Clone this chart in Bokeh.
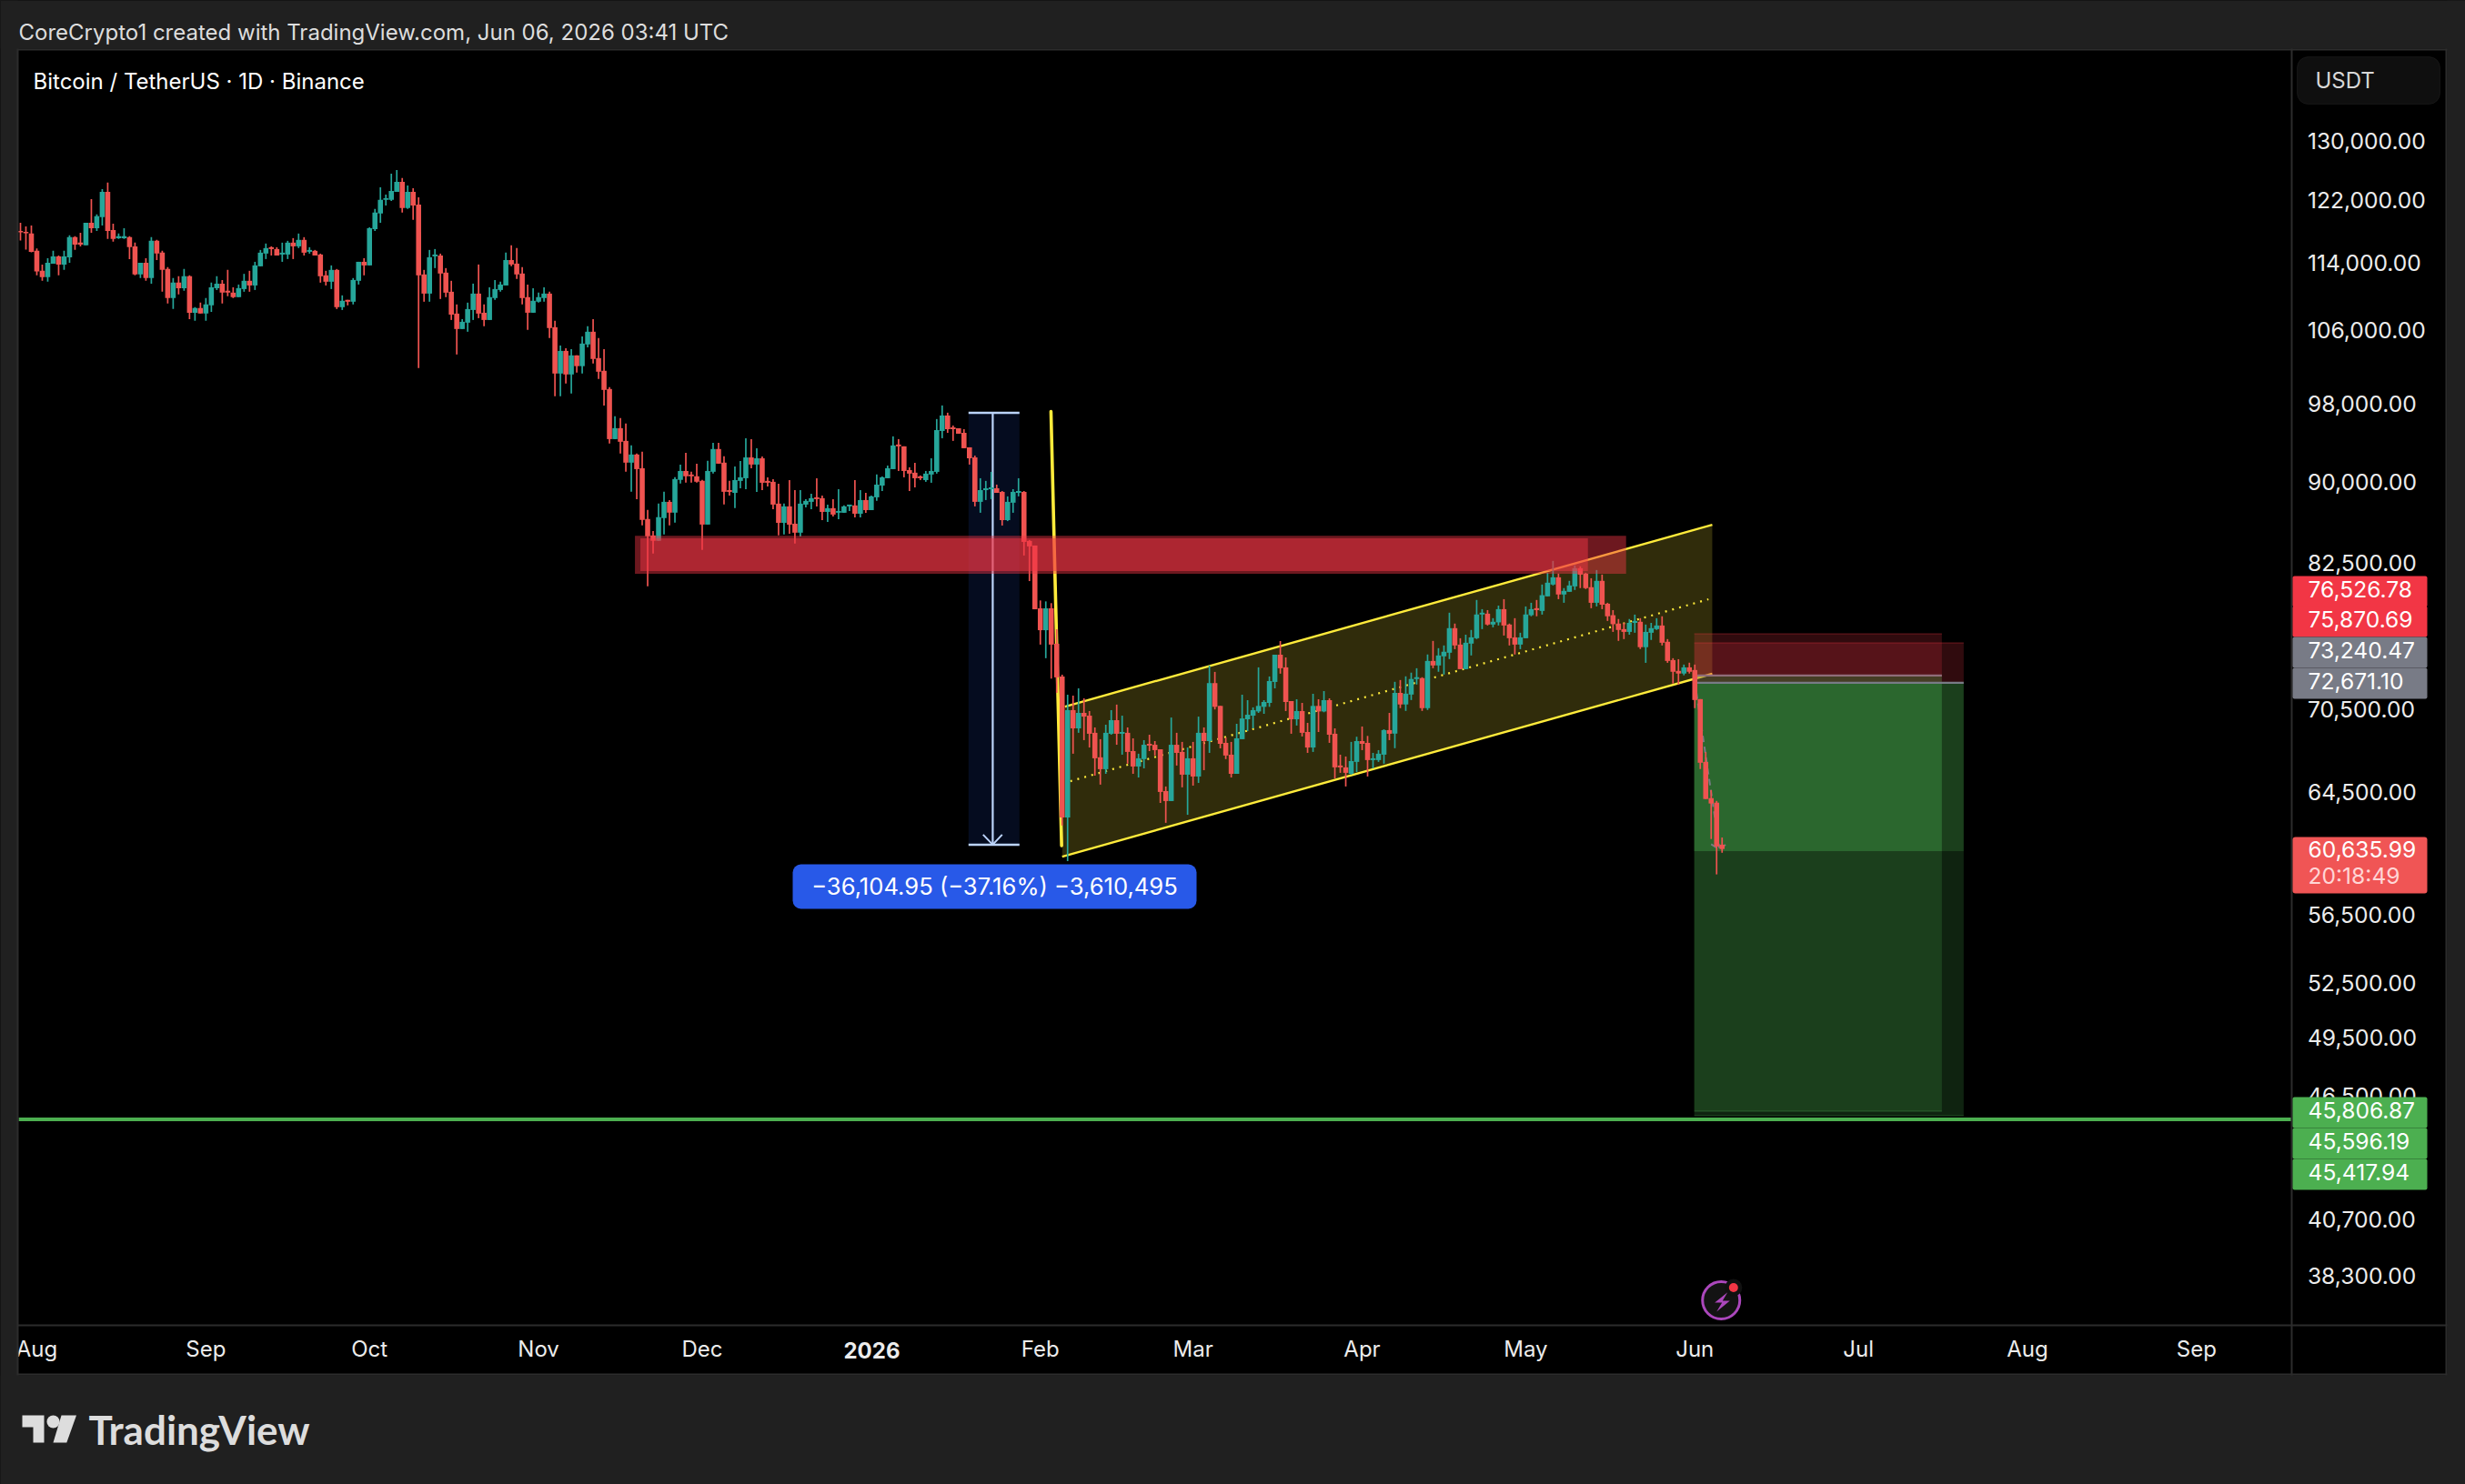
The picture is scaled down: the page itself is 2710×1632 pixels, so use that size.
from bokeh.embed import file_html
from bokeh.models import (BoxAnnotation, FixedTicker, GlobalInlineStyleSheet, Label,
                          PolyAnnotation, Range1d)
from bokeh.plotting import figure
from bokeh.resources import INLINE

# BTCUSDT daily candles, day 0 = 2025-08-01
days = list(range(-3, 310))

opens = [
    118000, 117880, 117660, 115490, 113030, 112260, 113910, 114800, 113800, 114690,
    117200, 116510, 116170, 119040, 118340, 119750, 123070, 118110, 117080, 117080,
    117200, 116050, 112590, 114020, 112150, 116740, 115260, 113250, 109760, 111600,
    110940, 112370, 108040, 108580, 107940, 108900, 110940, 111480, 110620, 110400,
    109870, 110830, 111820, 111260, 113580, 115150, 115940, 115710, 115030, 115030,
    116510, 116050, 116860, 115370, 115490, 115030, 112480, 111710, 113140, 108690,
    109550, 109330, 111820, 114130, 113690, 118230, 120220, 122000, 122000, 123070,
    124410, 120930, 123070, 121400, 112590, 110290, 114800, 114910, 112810, 110510,
    107940, 106160, 106890, 108360, 110290, 108040, 107200, 109760, 110720, 111260,
    114350, 113910, 112700, 109870, 108040, 109330, 109760, 110290, 106370, 101190,
    103690, 101090, 103190, 102000, 104410, 105850, 102890, 101490, 99520, 94290,
    95410, 94110, 91930, 92740, 91380, 86520, 85000, 84510, 86600, 88130,
    87110, 90240, 91110, 90760, 90590, 90150, 86000, 91030, 93290, 91930,
    89250, 88990, 90140, 90400, 92450, 91740, 92360, 90140, 90050, 87960,
    86160, 87700, 86080, 85250, 87870, 88130, 88560, 88480, 87180, 87530,
    87100, 87100, 87700, 87790, 87010, 88300, 87350, 88560, 89690, 90400,
    91290, 93740, 93560, 91200, 90940, 90580, 90220, 90760, 91020, 95120,
    96720, 95490, 95400, 94930, 93460, 92450, 88130, 89250, 89340, 89430,
    89080, 86410, 88050, 88990, 89080, 84500, 84080, 78580, 76750, 78580,
    75640, 73020, 62730, 70420, 69050, 70210, 70000, 68720, 66930, 66080,
    68650, 69660, 68650, 68720, 67380, 66270, 66800, 67910, 67840, 67510,
    64540, 63850, 67840, 67320, 65690, 66860, 65560, 68720, 68110, 72500,
    70740, 67980, 67120, 65750, 68250, 69730, 70000, 70320, 70670, 70970,
    72590, 74750, 73740, 71110, 69730, 70350, 68780, 67640, 70740, 70320,
    71180, 68650, 66340, 66210, 65750, 66600, 68110, 67980, 66730, 66730,
    67120, 68920, 68660, 71740, 70850, 71610, 72820, 72890, 70570, 74250,
    73890, 74620, 74910, 76920, 75570, 73600, 75650, 76090, 78060, 78130,
    77220, 77400, 78510, 77220, 76160, 75570, 76090, 78000, 78590, 78360,
    79600, 80620, 81250, 79760, 79990, 80460, 82050, 81570, 80390, 79050,
    80940, 78970, 78000, 77300, 76840, 76610, 77360, 77450, 75360, 76540,
    76840, 77140, 75800, 74320, 73460, 73250, 73740, 73530, 71260, 66600,
    64050, 63740, 60920,
]
highs = [
    119040, 118570, 118690, 115790, 113800, 114580, 115490, 114910, 115490, 117430,
    117310, 117770, 119040, 122110, 120100, 123430, 124290, 118920, 117660, 118340,
    117310, 116510, 114020, 114580, 117200, 116860, 115490, 113470, 112150, 112370,
    113250, 112480, 108690, 109220, 109760, 111600, 112370, 111920, 113140, 111040,
    111370, 112660, 113030, 114130, 115600, 116400, 116050, 115940, 116510, 116740,
    117080, 117660, 117200, 115940, 115600, 115140, 113030, 113690, 113250, 110080,
    109550, 112150, 114130, 114580, 118460, 120810, 123680, 122700, 125510, 126000,
    124900, 123920, 123560, 122340, 113140, 115600, 115710, 115140, 113360, 111820,
    109010, 107300, 109220, 111480, 113800, 109010, 111040, 111920, 111710, 115260,
    116170, 115830, 113470, 111370, 110940, 110400, 111040, 110510, 107100, 104300,
    103990, 103890, 103190, 105320, 106470, 107300, 105130, 103890, 99710, 96640,
    96450, 95880, 93650, 92840, 93020, 87370, 85410, 87960, 89090, 88300,
    90500, 91740, 92900, 91030, 91830, 90240, 92110, 93920, 93920, 92560,
    90140, 91560, 92090, 94380, 94290, 93370, 92550, 90490, 90310, 89870,
    87960, 90220, 89250, 89250, 88390, 88910, 90400, 88730, 87870, 88390,
    89340, 87790, 87870, 90220, 89250, 88990, 88730, 90760, 90580, 91650,
    94570, 94290, 93560, 91470, 91910, 90670, 91110, 92360, 96350, 97770,
    97010, 95680, 95400, 95300, 93460, 92630, 90400, 90140, 91020, 89780,
    89160, 88650, 89340, 90400, 89160, 84580, 84080, 79250, 79170, 79020,
    76830, 73160, 71600, 71530, 72090, 71320, 70350, 69120, 68250, 69320,
    70420, 70840, 70000, 69120, 68310, 67190, 68180, 68580, 68110, 67510,
    64860, 69860, 68720, 68050, 67640, 68050, 69930, 69120, 73880, 73380,
    70740, 68380, 68050, 69390, 71600, 71180, 70630, 73740, 71180, 73020,
    74750, 75860, 74530, 71110, 71250, 70970, 69460, 71670, 71250, 71880,
    71320, 69050, 67120, 66990, 68050, 68430, 69190, 68490, 67250, 67450,
    68980, 70210, 72600, 72740, 73030, 73320, 73670, 72960, 74770, 75870,
    75280, 75500, 78210, 77300, 76090, 76380, 76770, 79290, 78510, 78430,
    77750, 78810, 79360, 77300, 77750, 76540, 78740, 79050, 79290, 80620,
    81650, 82700, 81570, 80310, 80940, 82300, 82220, 81650, 81170, 81890,
    81490, 79050, 78430, 77680, 77360, 77680, 78050, 77750, 77220, 77360,
    77750, 77910, 76020, 74470, 74390, 73960, 74110, 73960, 71260, 67310,
    64610, 63860, 61390,
]
lows = [
    116780, 115640, 115300, 112480, 111820, 111710, 113910, 112480, 113140, 114020,
    115600, 116050, 116170, 117770, 118000, 118690, 116970, 116630, 116970, 116970,
    114470, 112480, 112150, 111820, 111480, 114350, 110510, 109120, 108470, 110190,
    110620, 107300, 107100, 107940, 107100, 108150, 110720, 109120, 109970, 109760,
    109870, 110510, 110510, 110720, 113580, 114470, 114910, 114910, 114130, 114470,
    114470, 115830, 114910, 115140, 114910, 111600, 111260, 110830, 108470, 108360,
    108900, 109010, 111370, 112480, 113690, 118000, 119040, 121280, 121870, 123070,
    120340, 120810, 119400, 101790, 109330, 109330, 113360, 109650, 109870, 107200,
    103290, 106160, 105850, 107200, 107410, 106470, 107200, 109550, 110510, 111260,
    113580, 112040, 109010, 106060, 108040, 109220, 109330, 105130, 98740, 98740,
    100100, 99040, 101290, 101190, 104090, 102290, 100590, 97770, 93840, 94290,
    92840, 91030, 89090, 88390, 85920, 80460, 83350, 84510, 85080, 85920,
    86180, 89880, 89970, 89970, 89970, 83680, 86000, 90850, 91830, 87880,
    88730, 87530, 89430, 89340, 91380, 89080, 89250, 89590, 87440, 85000,
    85080, 85160, 84250, 84910, 87610, 87440, 87700, 86410, 86240, 86750,
    86500, 87100, 87270, 86670, 86670, 87100, 87350, 88220, 89160, 90400,
    91290, 91110, 90490, 89160, 89510, 90220, 90050, 89960, 90850, 94380,
    94930, 94110, 94840, 93370, 91740, 87700, 87100, 88300, 88390, 88990,
    85910, 86320, 87100, 88650, 83180, 80920, 78500, 75570, 74470, 72850,
    71740, 62190, 59850, 67190, 68720, 68180, 67640, 65620, 64990, 65750,
    68580, 67840, 67120, 66470, 65750, 65490, 66140, 67380, 67060, 63720,
    62370, 63850, 66340, 64800, 62910, 64920, 65110, 66010, 67250, 70470,
    67580, 66800, 65490, 65750, 68250, 68850, 69050, 70210, 70140, 70670,
    72090, 73240, 70350, 68650, 69260, 68450, 67250, 67320, 68780, 70260,
    67980, 65430, 65820, 64860, 65690, 65880, 67450, 65560, 66140, 66600,
    66470, 68180, 67590, 70570, 70360, 71190, 72390, 70360, 70430, 73670,
    73390, 73170, 74400, 75200, 73600, 73600, 74690, 76020, 76840, 77140,
    76990, 77140, 76310, 75500, 74770, 75200, 76090, 77910, 77910, 78050,
    79600, 80540, 79360, 79050, 79990, 80150, 80310, 80230, 78590, 78740,
    78510, 77520, 76610, 75870, 76020, 76380, 76540, 75210, 74100, 75950,
    76770, 75500, 74100, 72460, 72390, 73110, 73250, 70570, 66090, 63990,
    61290, 59000, 60390,
]
closes = [
    117810, 117690, 115370, 112960, 112260, 114020, 114800, 113800, 114800, 117200,
    116280, 116280, 119040, 118340, 119870, 123070, 118000, 116970, 117310, 117310,
    115940, 112590, 114020, 112150, 116740, 115150, 113140, 109760, 111600, 110940,
    112370, 108040, 108580, 107940, 109010, 111040, 111480, 110400, 110400, 109870,
    110940, 111820, 111260, 113690, 115260, 115830, 115710, 114910, 115260, 116510,
    116050, 116860, 115260, 115600, 114910, 112370, 111710, 113140, 108690, 109440,
    109330, 111920, 114130, 113690, 118340, 120340, 122000, 122220, 123190, 124410,
    120930, 123070, 121280, 112480, 110290, 114690, 115030, 112700, 110400, 107820,
    106160, 106990, 108470, 110290, 107940, 107200, 109870, 110830, 111370, 114350,
    113800, 112590, 109760, 108040, 109440, 109870, 110290, 106270, 101190, 103690,
    101090, 103190, 102000, 104510, 105850, 102790, 101390, 99420, 94290, 95410,
    94020, 91930, 92740, 91290, 86430, 84920, 84510, 86690, 88130, 87110,
    90320, 91110, 90590, 90590, 90060, 86000, 91110, 93290, 91830, 89090,
    89080, 90220, 90490, 92450, 91740, 92360, 89960, 89960, 87870, 86160,
    87700, 85990, 85250, 87960, 88220, 88480, 88390, 87180, 87530, 86930,
    87270, 87700, 87870, 87010, 88300, 87350, 88650, 89780, 90490, 91380,
    93650, 93560, 91110, 90850, 90400, 90400, 90850, 91110, 95210, 96720,
    95300, 95300, 94840, 93370, 92360, 88130, 89250, 89430, 89510, 88990,
    86410, 88130, 89080, 89160, 84410, 84000, 78500, 76750, 78580, 75570,
    72950, 62730, 70420, 69050, 70210, 69930, 68650, 66860, 66080, 68720,
    69660, 68650, 68780, 67320, 66270, 66860, 67840, 67780, 67450, 64480,
    63850, 67840, 67250, 65690, 66860, 65560, 68720, 68110, 72500, 70670,
    67910, 67060, 65750, 68310, 69790, 70070, 70420, 70740, 71040, 72660,
    74750, 73670, 71040, 69730, 70350, 68720, 67640, 70740, 70320, 71180,
    68580, 66210, 66210, 65820, 66660, 68110, 67910, 66730, 66860, 67190,
    68920, 68650, 71740, 70850, 71680, 72820, 72960, 70570, 74250, 73890,
    74690, 74990, 76920, 75500, 73600, 75720, 76160, 78060, 78210, 77220,
    77450, 78510, 77140, 76090, 75570, 76160, 78060, 78510, 78430, 79700,
    80780, 81250, 79760, 80070, 80540, 82050, 81490, 80310, 79050, 80940,
    78890, 77910, 77250, 76770, 76610, 77360, 77520, 75360, 76610, 76920,
    77140, 75720, 74250, 73390, 73250, 73740, 73390, 71190, 66540, 63990,
    63680, 60800, 60636,
]

price_ticks = [130000, 122000, 114000, 106000, 98000, 90000, 82500, 70500, 64500,
               56500, 52500, 49500, 46500, 40700, 38300]
month_days = [0, 31, 61, 92, 122, 153, 184, 212, 243, 273, 304, 334, 365, 396]
month_names = ["Aug", "Sep", "Oct", "Nov", "Dec", "", "Feb", "Mar", "Apr", "May", "Jun",
               "Jul", "Aug", "Sep"]

# drawings on the chart, in days and prices
zone_left = [109.67, 110.67]
zone_right = [291.4, 284.4]
zone_top = [84960, 84730]
zone_bottom = [81560, 81800]

channel_days = [188, 307.2, 307.2, 188.5]
channel_prices = [60140, 73230, 85980, 70690]
channel_mid_days = [189.5, 306.5]
channel_mid_prices = [65230, 79350]

steep_days = [185.95, 187.9]
steep_prices = [97140, 60850]

measure_left, measure_center, measure_right = 170.83, 175.27, 180.17
measure_top, measure_bottom = 97000, 60920
arrow_days = [173.5, 175.27, 177]
arrow_prices = [61580, 60920, 61580]

pos_left = 303.9
pos_right = [349.3, 353.3]
stop_prices = [76450, 75710]
entry_prices = [73090, 72520]
target_prices = [45720, 45500]
current_price = 60500
pos_path_days = [304, 308.5]
pos_path_prices = [72600, 60700]
pos_arrow_days = [307, 308.4, 310.2]
pos_arrow_prices = [60950, 60620, 61050]

target_line = 45320
pane_left, pane_right = -3.33, 413.35
pane_bottom = 36385

tag_rows = ["76,526.78", "75,870.69", "73,240.47", "72,671.10",
            "45,806.87", "45,596.19", "45,417.94"]
tag_colors = ["#f23645", "#f23645", "#787b86", "#787b86", "#4caf50", "#4caf50", "#4caf50"]
tag_tops = [633, 666, 700, 734, 1206, 1240, 1274]
tag_heights = [34, 34, 34, 34, 34, 34, 34]

PANEL = "#202020"
EDGE = "#2c2c2c"
RED = "#ef5350"
GREEN = "#26a69a"
FONT = "Inter"
PRICE_SIZE = "24.6px"

# the frame fills the whole page at just under 6 px a day on a log price scale,
# the axes are pinned to the edges of the black pane
p = figure(width=2710, height=1632, output_backend="svg", toolbar_location=None,
           y_axis_type="log", y_axis_location="right",
           x_range=Range1d(-6.667, 445.3), y_range=Range1d(30583, 151238),
           min_border=0, background_fill_color="#000000", border_fill_color=PANEL,
           outline_line_color=None)
p.stylesheets = [GlobalInlineStyleSheet(css="html,body{background:%s;}" % PANEL)]
p.grid.grid_line_color = None

p.xaxis.fixed_location = pane_bottom
p.yaxis.fixed_location = pane_right
p.xaxis.ticker = FixedTicker(ticks=month_days)
p.xaxis.major_label_overrides = {d: n for d, n in zip(month_days, month_names)}
p.yaxis.ticker = FixedTicker(ticks=price_ticks)
p.yaxis.major_label_overrides = {t: f"{t:,.2f}" for t in price_ticks}
for ax in (p.xaxis[0], p.yaxis[0]):
    ax.axis_line_color = None
    ax.major_tick_line_color = None
    ax.minor_tick_line_color = None
    ax.major_label_text_color = "#ececec"
    ax.major_label_text_font = FONT
    ax.major_label_text_font_size = "24px"
p.yaxis.major_label_text_font_size = PRICE_SIZE
p.xaxis.major_label_standoff = 8
p.yaxis.major_label_standoff = 12

# measure tool
p.quad(left=[measure_left], right=[measure_right], top=[measure_top], bottom=[measure_bottom],
       fill_color="#2962ff", fill_alpha=0.12, line_color=None)
p.segment([measure_left, measure_left], [measure_top, measure_bottom],
          [measure_right, measure_right], [measure_top, measure_bottom],
          line_color="#bcd4fa", line_width=2.5)
p.line([measure_center, measure_center], [measure_top, measure_bottom],
       line_color="#bcd4fa", line_width=2.2)
p.line(arrow_days, arrow_prices, line_color="#bcd4fa", line_width=2)

# rising channel
p.patch(channel_days, channel_prices, fill_color="#ffeb3b", fill_alpha=0.19, line_color=None)
p.line(channel_days[:2], channel_prices[:2], line_color="#ffeb3b", line_width=2.4)
p.line(channel_days[2:], channel_prices[2:], line_color="#ffeb3b", line_width=2.4)
p.line(channel_mid_days, channel_mid_prices, line_color="#ffeb3b", line_width=2.2,
       line_dash="2 6")
p.line(steep_days, steep_prices, line_color="#ffeb3b", line_width=3.6, line_cap="round")

# the two long position tools
for right, stop, entry, target in zip(pos_right, stop_prices, entry_prices, target_prices):
    p.quad(left=[pos_left], right=[right], top=[stop], bottom=[entry],
           fill_color="#f23645", fill_alpha=0.2, line_color=None)
    p.quad(left=[pos_left], right=[right], top=[entry], bottom=[target],
           fill_color="#4caf50", fill_alpha=0.2, line_color=None)
    p.quad(left=[pos_left], right=[right], top=[entry], bottom=[current_price],
           fill_color="#4caf50", fill_alpha=0.2, line_color=None)
    p.line([pos_left, right], [stop, stop], line_color="#f23645", line_alpha=0.25, line_width=1.5)
    p.line([pos_left, right], [target, target], line_color="#4caf50", line_alpha=0.25, line_width=1.5)
    p.line([pos_left, right], [entry, entry], line_color="#787b86", line_width=2.2)
p.line(pos_path_days, pos_path_prices, line_color="#787b86", line_width=2, line_dash="7 5")
p.line(pos_arrow_days, pos_arrow_prices, line_color="#787b86", line_width=2, line_dash="7 5")

# candles
colors = [GREEN if c >= o else RED for o, c in zip(opens, closes)]
p.segment(days, highs, days, lows, line_color=colors, line_width=1.7)
p.vbar(x=days, width=0.93, top=closes, bottom=opens, fill_color=colors, line_color=None)

# red zone sits above the candles
for l, r, t, b, a in zip(zone_left, zone_right, zone_top, zone_bottom, [0.45, 0.48]):
    p.quad(left=[l], right=[r], top=[t], bottom=[b], fill_color="#f23645", fill_alpha=a,
           line_color=None)

p.line([pane_left, pane_right], [target_line, target_line], line_color="#4caf50", line_width=4)

# flash badge
badge_days = [308.83, 311.1]
badge_prices = [37290, 37810]
p.scatter([badge_days[0]], [badge_prices[0]], size=41, fill_color="#131313", line_color="#ab47bc",
          line_width=3)
p.scatter([badge_days[1]], [badge_prices[1]], size=19, fill_color="#111111", line_color=None)
p.scatter([badge_days[1]], [badge_prices[1]], size=10, fill_color="#f23645", line_color=None)


def box(x0, y0, x1, y1, color, radius=0, line=None):
    # page pixels
    p.add_layout(BoxAnnotation(left=x0, right=x1, top=y0, bottom=y1,
                               left_units="canvas", right_units="canvas",
                               top_units="canvas", bottom_units="canvas",
                               fill_color=color, fill_alpha=1, line_color=line,
                               border_radius=radius, level="annotation"))


def text(x, y, s, color="#ffffff", size="24px", align="left", style="normal", font=FONT):
    p.add_layout(Label(x=x, y=y, x_units="canvas", y_units="canvas", text=s,
                       text_color=color, text_font=font, text_font_size=size,
                       text_font_style=style, text_align=align, text_baseline="middle"))


def poly(xs, ys, color):
    p.add_layout(PolyAnnotation(xs=xs, ys=ys, xs_units="canvas", ys_units="canvas",
                                fill_color=color, fill_alpha=1, line_color=None))


# outer dark strips and panel edges
box(0, 0, 2710, 53, PANEL)
box(0, 0, 19, 1632, PANEL)
box(2690, 0, 2710, 1632, PANEL)
box(0, 1512, 2710, 1632, PANEL)
box(19, 53, 2690, 55, EDGE)
box(18, 53, 20, 1512, EDGE)
box(2688, 53, 2690, 1512, EDGE)
box(19, 1510, 2690, 1512, EDGE)
box(19, 1456, 2690, 1458, EDGE)
box(2518, 53, 2520, 1512, EDGE)

text(20, 35, "CoreCrypto1 created with TradingView.com, Jun 06, 2026 03:41 UTC", color="#dddddd")
text(36, 89, "Bitcoin / TetherUS \u00b7 1D \u00b7 Binance")
text(958, 1484, "2026", style="bold", align="center", color="#ececec")

box(2525, 62, 2682, 114, "#0f0f0f", radius=12, line="#363636")
text(2545, 88, "USDT", color="#d8d8d8")

for row, col, top, h in zip(tag_rows, tag_colors, tag_tops, tag_heights):
    box(2520, top, 2668, top + h, col, radius=2)
    text(2537, top + h / 2 - 3, row, size=PRICE_SIZE)
box(2520, 920, 2668, 982, "#f05555", radius=3)
text(2537, 933, "60,635.99", size=PRICE_SIZE)
text(2537, 962, "20:18:49", color="#ffd6d6", size=PRICE_SIZE)

# measure readout
box(871, 950, 1315, 999, "#2859e8", radius=9)
text(1093, 974, "\u221236,104.95 (\u221237.16%) \u22123,610,495", align="center", size="25.6px")

poly([1898.7, 1884.7, 1892.7, 1886.7, 1901.3, 1893.3], [1420.7, 1432, 1432, 1442, 1430, 1430], "#ab47bc")

# TradingView logo
poly([24, 48, 48, 36, 36, 24], [1556, 1556, 1586, 1586, 1569, 1569], "#dddddd")
poly([67, 83.5, 72.8, 58], [1556, 1556, 1586, 1586], "#dddddd")
box(51, 1556, 65, 1570, "#dddddd", radius=7)
text(97, 1571, "TradingView", color="#dddddd", size="44px", style="bold", font="Lato")

open("out.html", "w").write(file_html(p, INLINE))
